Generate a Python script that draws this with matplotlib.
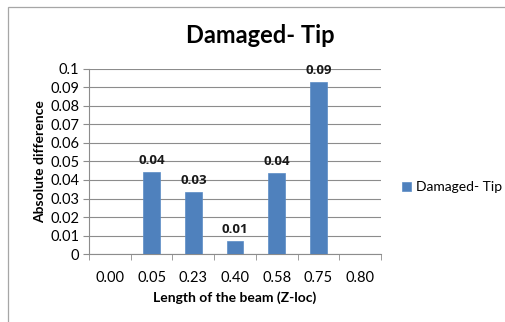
import matplotlib.pyplot as plt
import numpy as np
from matplotlib.patches import Rectangle

plt.rcParams['font.family'] = ['Lato', 'DejaVu Sans']

# beam positions (Z-loc) and absolute difference at the tip
z_loc = ['0.00', '0.05', '0.23', '0.40', '0.58', '0.75', '0.80']
abs_diff = [0.0, 0.0442, 0.0337, 0.0072, 0.0438, 0.0928, 0.0]
series_name = 'Damaged- Tip'

fig = plt.figure(figsize=(5.06, 3.22), dpi=100)
ax = fig.add_axes([0.176, 0.211, 0.577, 0.575])

# outer chart frame
fig.patches.append(Rectangle((8 / 506, -0.1), 1.2, 1 - 7 / 322 + 0.1,
                             transform=fig.transFigure, fill=False,
                             edgecolor='#a6a6a6', lw=0.9))

x = np.arange(len(z_loc))
bars = ax.bar(x, abs_diff, width=0.4, color='#4f81bd', edgecolor='#5b8cc6',
              lw=0.5, label=series_name, zorder=3)

for xi, v in zip(x, abs_diff):
    if v > 0:
        ax.text(xi, v + 0.0027, '%.2f' % v, ha='center', va='bottom',
                fontsize=9.5, fontweight='bold', color='#1a1a1a',
                family=['Open Sans', 'DejaVu Sans'])

ax.set_xlim(-0.5, len(z_loc) - 0.5)
ax.set_ylim(0, 0.1)
ax.set_yticks(np.arange(0, 0.101, 0.01))
ax.set_yticklabels(['0'] + ['%.2f' % t for t in np.arange(0.01, 0.095, 0.01)] + ['0.1'])
ax.yaxis.grid(True, color='#8c8c8c', lw=0.8, zorder=0)
ax.set_axisbelow(True)

ax.set_xticks(x)
ax.set_xticklabels(z_loc)
ax.set_xticks(np.arange(-0.5, len(z_loc), 1), minor=True)
ax.tick_params(axis='x', which='major', length=0, pad=12, labelsize=10.5)
ax.tick_params(axis='x', which='minor', length=4, color='#8c8c8c', direction='out')
ax.tick_params(axis='y', length=4, color='#8c8c8c', labelsize=10.5, pad=3)

for s in ['top', 'right']:
    ax.spines[s].set_visible(False)
for s in ['left', 'bottom']:
    ax.spines[s].set_color('#8c8c8c')

ax.set_xlabel('Length of the beam (Z-loc)', fontsize=10, fontweight='bold', labelpad=5)
ax.set_ylabel('Absolute difference', fontsize=10, fontweight='bold', labelpad=3)
fig.text(0.514, 0.89, 'Damaged- Tip', ha='center', va='center',
         fontsize=17, fontweight='bold')

ax.legend(loc='center left', bbox_to_anchor=(1.03, 0.36), frameon=False,
          fontsize=10, handlelength=0.6, handleheight=0.6, handletextpad=0.4)

fig.savefig('out.png', dpi=100)
